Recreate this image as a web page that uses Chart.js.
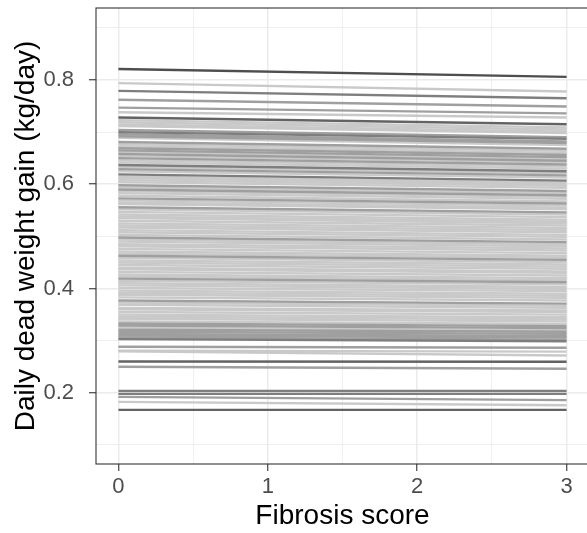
<!DOCTYPE html>
<html>
<head>
<meta charset="utf-8">
<script src="https://cdn.jsdelivr.net/npm/chart.js@4/dist/chart.umd.min.js"></script>
<style>
  html, body { margin: 0; padding: 0; overflow: hidden; background: #fff; }
  #wrap { position: absolute; left: 0; top: 0; width: 600px; height: 533px; }
</style>
</head>
<body>
<div id="wrap"><canvas id="chart" width="600" height="533"></canvas></div>
<script>
// fibrosis score at the two ends of every fitted line
const fibrosisScore = [0, 3];

// predicted daily dead weight gain (kg/day) per line, at score 0 and at score 3
const gainAtScore0 = [
  0.821, 0.794, 0.779, 0.762, 0.747, 0.738, 0.728,
  0.723, 0.719, 0.7145, 0.7115, 0.704, 0.700, 0.696, 0.692, 0.689,
  0.681, 0.677, 0.673, 0.669, 0.665, 0.662, 0.658, 0.654, 0.650, 0.646,
  0.642, 0.637, 0.633, 0.629, 0.625, 0.619, 0.615, 0.612, 0.608, 0.604,
  0.598, 0.594, 0.590, 0.587, 0.583, 0.578, 0.573, 0.569, 0.565, 0.562,
  0.556, 0.552, 0.547, 0.542, 0.538, 0.535, 0.530, 0.525, 0.521, 0.517,
  0.512, 0.508, 0.503, 0.498, 0.494, 0.490, 0.485, 0.481, 0.476, 0.471,
  0.467, 0.463, 0.459, 0.454, 0.450, 0.445, 0.440, 0.437, 0.432, 0.427,
  0.423, 0.419, 0.415, 0.410, 0.406, 0.401, 0.396, 0.392, 0.388, 0.383,
  0.377, 0.373, 0.369, 0.363, 0.360, 0.355, 0.350, 0.346, 0.342, 0.337,
  0.333, 0.329, 0.325, 0.321, 0.317, 0.313, 0.310, 0.306, 0.303,
  0.2885, 0.2810, 0.2794, 0.2602, 0.2500,
  0.2038, 0.1980, 0.1923, 0.1827, 0.1673
];
const gainAtScore3 = [
  0.806, 0.778, 0.765, 0.749, 0.736, 0.728, 0.715,
  0.709, 0.705, 0.701, 0.698, 0.690, 0.687, 0.682, 0.679, 0.675,
  0.668, 0.664, 0.660, 0.656, 0.652, 0.649, 0.645, 0.642, 0.638, 0.634,
  0.630, 0.625, 0.621, 0.617, 0.613, 0.607, 0.603, 0.600, 0.597, 0.593,
  0.587, 0.583, 0.579, 0.576, 0.572, 0.567, 0.563, 0.559, 0.555, 0.552,
  0.546, 0.542, 0.537, 0.532, 0.528, 0.525, 0.521, 0.516, 0.512, 0.508,
  0.503, 0.499, 0.494, 0.489, 0.485, 0.481, 0.477, 0.473, 0.468, 0.463,
  0.459, 0.455, 0.451, 0.446, 0.442, 0.438, 0.433, 0.430, 0.425, 0.420,
  0.416, 0.412, 0.408, 0.403, 0.399, 0.395, 0.390, 0.386, 0.382, 0.377,
  0.371, 0.367, 0.363, 0.358, 0.355, 0.350, 0.345, 0.341, 0.337, 0.332,
  0.328, 0.324, 0.320, 0.317, 0.313, 0.309, 0.306, 0.302, 0.299,
  0.2865, 0.2790, 0.2717, 0.2596, 0.2462,
  0.2038, 0.1980, 0.1860, 0.1763, 0.1673
];
// number of animals sharing each line (overlapping lines look darker)
const animalsPerLine = [
  5, 1, 3, 2, 2, 1, 4,
  1, 1, 1, 1, 2, 3, 2, 2, 1,
  2, 1, 1, 2, 2, 1, 2, 1, 2, 1,
  1, 3, 1, 2, 1, 3, 1, 1, 1, 1,
  2, 1, 2, 1, 1, 1, 2, 1, 1, 1,
  2, 1, 1, 1, 1, 1, 1, 1, 1, 1,
  1, 1, 1, 2, 1, 1, 1, 1, 1, 1,
  1, 2, 1, 1, 1, 1, 1, 1, 1, 1,
  1, 2, 1, 1, 1, 1, 1, 1, 1, 1,
  2, 1, 1, 1, 1, 1, 1, 1, 1, 1,
  2, 2, 1, 2, 2, 2, 2, 2, 3,
  2, 1, 1, 4, 2,
  3, 3, 2, 1, 4
];

const yTicks = [0.1, 0.2, 0.3, 0.4, 0.5, 0.6, 0.7, 0.8, 0.9];
const xTicks = [0, 0.5, 1, 1.5, 2, 2.5, 3];

function lineColor(n) {
  const g = Math.round(255 * Math.pow(0.79, n));
  return `rgb(${g},${g},${g})`;
}

const datasets = gainAtScore0.map((g0, i) => ({
  data: [
    { x: fibrosisScore[0], y: g0 },
    { x: fibrosisScore[1], y: gainAtScore3[i] }
  ],
  borderColor: lineColor(animalsPerLine[i]),
  borderWidth: 2.4,
  pointRadius: 0,
  tension: 0,
  order: -animalsPerLine[i]
}));

const isMajorY = (v) => Math.round(v * 10) % 2 === 0;
const isMajorX = (v) => Math.abs(v - Math.round(v)) < 1e-6;

const panelBorder = {
  id: "panelBorder",
  afterDraw(chart) {
    const { ctx, chartArea: a } = chart;
    ctx.save();
    ctx.strokeStyle = "#333333";
    ctx.lineWidth = 1.1;
    ctx.strokeRect(a.left, a.top, a.right - a.left, a.bottom - a.top);
    ctx.restore();
  }
};

const fontFamily = "'Liberation Sans', Arial, sans-serif";

new Chart(document.getElementById("chart"), {
  type: "line",
  data: { datasets },
  options: {
    responsive: false,
    animation: false,
    layout: { padding: { top: 8, right: 11, left: 0, bottom: 0 } },
    plugins: {
      legend: { display: false },
      tooltip: { enabled: false }
    },
    scales: {
      x: {
        type: "linear",
        min: -0.15,
        max: 3.15,
        afterBuildTicks: (s) => { s.ticks = xTicks.map((v) => ({ value: v })); },
        afterFit: (s) => { s.height = 69; s.paddingLeft = 0; s.paddingRight = 0; },
        ticks: {
          autoSkip: false,
          maxRotation: 0,
          padding: 3,
          color: "#4d4d4d",
          font: { family: fontFamily, size: 22 },
          callback: (v) => (isMajorX(v) ? String(Math.round(v)) : "")
        },
        grid: {
          color: "#ebebeb",
          lineWidth: (c) => (isMajorX(c.tick.value) ? 1.5 : 0.8),
          tickLength: 7,
          tickWidth: 1.1,
          tickColor: (c) => (isMajorX(c.tick.value) ? "#333333" : "rgba(0,0,0,0)")
        },
        border: { display: false },
        title: {
          display: true,
          text: "Fibrosis score",
          color: "#000",
          font: { family: fontFamily, size: 28, lineHeight: 1 },
          padding: { top: 0, bottom: 3 }
        }
      },
      y: {
        type: "linear",
        min: 0.0635,
        max: 0.938,
        afterBuildTicks: (s) => { s.ticks = yTicks.map((v) => ({ value: v })); },
        afterFit: (s) => { s.width = 96; s.paddingTop = 0; s.paddingBottom = 0; },
        ticks: {
          autoSkip: false,
          padding: 15,
          color: "#4d4d4d",
          font: { family: fontFamily, size: 22 },
          callback: (v) => (isMajorY(v) ? v.toFixed(1) : "")
        },
        grid: {
          color: "#ebebeb",
          lineWidth: (c) => (isMajorY(c.tick.value) ? 1.5 : 0.8),
          tickLength: 7,
          tickWidth: 1.1,
          tickColor: (c) => (isMajorY(c.tick.value) ? "#333333" : "rgba(0,0,0,0)")
        },
        border: { display: false },
        title: {
          display: true,
          text: "Daily dead weight gain (kg/day)",
          color: "#000",
          font: { family: fontFamily, size: 28, lineHeight: 1 },
          padding: { top: 12, bottom: 0 }
        }
      }
    }
  },
  plugins: [panelBorder]
});
</script>
</body>
</html>
